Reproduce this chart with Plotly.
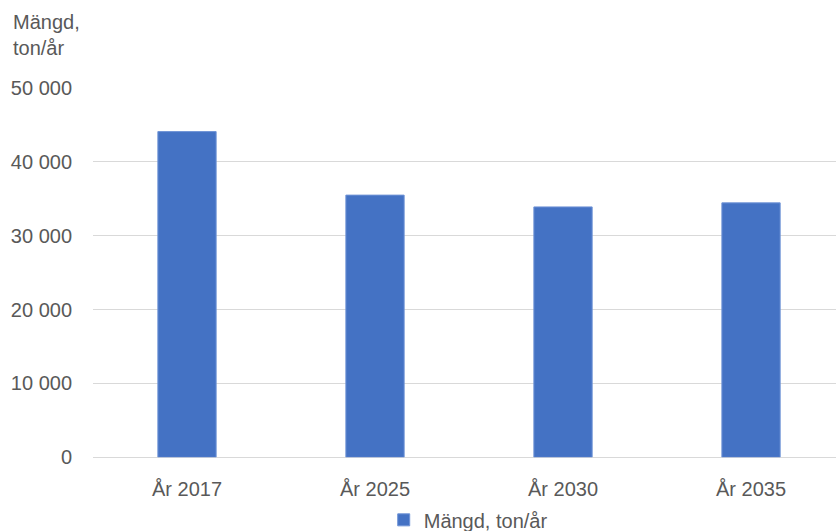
import plotly.graph_objects as go

categories = ["År 2017", "År 2025", "År 2030", "År 2035"]
values = [44100, 35500, 33900, 34450]
series_name = "Mängd, ton/år"
y_tickvals = [0, 10000, 20000, 30000, 40000, 50000]
y_ticktext = ["0", "10 000", "20 000", "30 000", "40 000", "50 000"]
y_title = "Mängd,<br>ton/år"

FONT = "Liberation Sans, Arial, sans-serif"
GREY = "#595959"

fig = go.Figure()
fig.add_trace(go.Bar(
    x=categories, y=values, name=series_name,
    marker=dict(color="#4472C4", line=dict(color="#6f93d6", width=1)),
    width=0.31,
    showlegend=True,
))

fig.update_layout(
    width=836, height=531,
    margin=dict(l=93, r=0, t=88, b=70),
    paper_bgcolor="white", plot_bgcolor="white",
    font=dict(family=FONT, size=20, color=GREY),
    xaxis=dict(
        range=[-0.5, 3.452],
        showgrid=False, showline=False, zeroline=False,
        ticks="", tickfont=dict(size=20, color=GREY),
        ticklabelstandoff=18,
    ),
    yaxis=dict(
        range=[0, 50000],
        tickvals=y_tickvals, ticktext=y_ticktext,
        showgrid=True, gridcolor="#d9d9d9", gridwidth=1,
        zeroline=True, zerolinecolor="#d9d9d9", zerolinewidth=1,
        showline=False, ticks="",
        tickfont=dict(size=20, color=GREY),
        ticklabelstandoff=20,
    ),
    showlegend=True,
    legend=dict(
        orientation="h", x=0.505, xanchor="center",
        yref="container", y=0.021, yanchor="middle",
        font=dict(size=20, color=GREY),
        itemwidth=30,
    ),
    annotations=[dict(
        text=y_title, xref="paper", yref="paper",
        x=0, y=1, xanchor="left", yanchor="bottom",
        xshift=-82, yshift=27, align="left", showarrow=False,
        font=dict(size=20, color=GREY, family=FONT),
    )],
)

fig.write_html(
    "out.html",
    config={"displayModeBar": False},
    post_script="document.body.style.margin='0';document.body.style.overflow='hidden';",
)
